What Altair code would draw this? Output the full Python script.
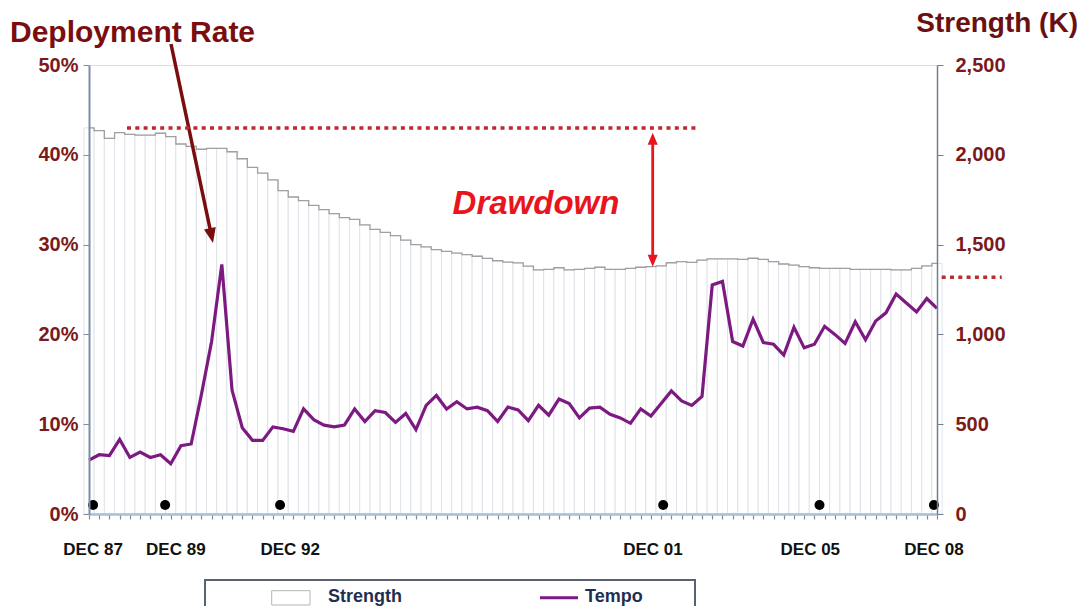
import altair as alt
import pandas as pd

# ---------------- data ----------------
tempo_pct = [6.0, 6.6, 6.5, 8.3, 6.3, 6.9, 6.3, 6.6, 5.6, 7.6,
             7.8, 13.3, 19.2, 27.8, 13.8, 9.6, 8.2, 8.2, 9.7, 9.5,
             9.2, 11.7, 10.5, 9.9, 9.7, 9.9, 11.7, 10.3, 11.5, 11.3,
             10.2, 11.2, 9.4, 12.1, 13.2, 11.7, 12.5, 11.7, 11.9, 11.5,
             10.3, 11.9, 11.6, 10.4, 12.1, 11.0, 12.8, 12.3, 10.7, 11.8,
             11.9, 11.1, 10.7, 10.1, 11.7, 10.9, 12.3, 13.7, 12.6, 12.1,
             13.1, 25.5, 25.9, 19.2, 18.7, 21.7, 19.1, 18.9, 17.7, 20.8,
             18.5, 18.9, 20.9, 20.0, 19.0, 21.4, 19.4, 21.5, 22.4, 24.5,
             23.5, 22.5, 24.0, 22.9]

strength_k = [2150, 2135, 2092, 2123, 2114, 2110, 2110, 2120, 2101, 2060,
              2047, 2031, 2036, 2036, 2017, 1978, 1930, 1898, 1860, 1800,
              1765, 1745, 1718, 1695, 1672, 1650, 1640, 1610, 1585, 1568,
              1550, 1525, 1500, 1487, 1472, 1462, 1453, 1444, 1435, 1423,
              1410, 1402, 1398, 1380, 1359, 1362, 1371, 1359, 1362, 1368,
              1374, 1362, 1362, 1368, 1374, 1377, 1381, 1399, 1405, 1401,
              1414, 1420, 1420, 1420, 1418, 1424, 1418, 1405, 1392, 1386,
              1377, 1371, 1368, 1368, 1368, 1362, 1362, 1362, 1362, 1359,
              1359, 1368, 1381, 1396]

tick_labels = ["DEC 87", "DEC 89", "DEC 92", "DEC 01", "DEC 05", "DEC 08"]
tick_quarters = [0.4, 8.5, 19.7, 55.2, 70.6, 82.7]
marker_quarters = [0.4, 7.45, 18.7, 56.2, 71.5, 82.7]

pct_ticks = [0, 0.1, 0.2, 0.3, 0.4, 0.5]
k_ticks = [0, 500, 1000, 1500, 2000, 2500]

n = len(tempo_pct)
df = pd.DataFrame({
    "q": list(range(n)),
    "tempo": [v / 100 for v in tempo_pct],
    "strength": strength_k,
})

# ---------------- styling ----------------
FONT = "Liberation Sans"
W, H = 848, 449
MAROON = "#7a1a1a"
PURPLE = "#7d1a82"

xs = alt.Scale(domain=[0, n - 1], nice=False, zero=False)
ys_k = alt.Scale(domain=[0, 2500], nice=False, zero=True)
ys_p = alt.Scale(domain=[0, 0.5], nice=False, zero=True)

x_axis = alt.Axis(
    values=list(range(n)), labels=False, title=None, grid=False,
    domainColor="#a9bfd2", domainWidth=2.5, tickColor="#7a8ca3",
    tickSize=5, tickWidth=1.2, zindex=1)

k_axis = alt.Axis(
    orient="right", values=k_ticks, format=",.0f", title=None, grid=False,
    labelFont=FONT, labelFontSize=20, labelFontWeight="bold",
    labelColor=MAROON, labelPadding=12, tickSize=6, tickColor="#6f7f94",
    domainColor="#6f7f94", domainWidth=1.5, zindex=1)

p_axis = alt.Axis(
    orient="left", values=pct_ticks, format=".0%", title=None, grid=False,
    labelFont=FONT, labelFontSize=20, labelFontWeight="bold",
    labelColor=MAROON, labelPadding=5, tickSize=6, tickColor="#7c8ea5",
    domainColor="#7c8ea5", domainWidth=2, zindex=1)

bars = alt.Chart(df).transform_calculate(
    lo="datum.q - 0.5", hi="datum.q + 0.5", zero="0"
).mark_bar(fill="#ffffff", stroke="#dfe3e8", strokeWidth=1).encode(
    x=alt.X("lo:Q", scale=xs, axis=x_axis),
    x2="hi:Q",
    y=alt.Y("strength:Q", scale=ys_k, axis=k_axis),
    y2="zero:Q",
)

step = alt.Chart(df).mark_line(interpolate="step", color="#a0a0a0", strokeWidth=1.3).encode(
    x=alt.X("q:Q", scale=xs, axis=x_axis),
    y=alt.Y("strength:Q", scale=ys_k, axis=k_axis),
)

strength_group = alt.layer(bars, step)

tempo_line = alt.Chart(df).mark_line(color=PURPLE, strokeWidth=3.2).encode(
    x=alt.X("q:Q", scale=xs, axis=x_axis),
    y=alt.Y("tempo:Q", scale=ys_p, axis=p_axis),
)

dots = alt.Chart(pd.DataFrame({"q": marker_quarters})).mark_circle(
    size=100, color="#000000", opacity=1).encode(
    x=alt.X("q:Q", scale=xs, axis=x_axis),
    y=alt.value(440),
)

tick_text = alt.Chart(pd.DataFrame({"q": tick_quarters, "t": tick_labels})).mark_text(
    font=FONT, fontSize=17, fontWeight="bold", color="#111111", baseline="middle").encode(
    x=alt.X("q:Q", scale=xs, axis=x_axis),
    y=alt.value(485),
    text="t:N",
)

tempo_group = alt.layer(tempo_line, dots, tick_text)


def txt(s, x, y, **kw):
    return alt.Chart(pd.DataFrame({"t": [s]})).mark_text(font=FONT, baseline="middle", **kw).encode(
        x=alt.value(x), y=alt.value(y), text="t:N")


def seg(x, y, x2, y2, **kw):
    return alt.Chart(pd.DataFrame({"a": [0]})).mark_rule(**kw).encode(
        x=alt.value(x), y=alt.value(y), x2=alt.value(x2), y2=alt.value(y2))


def head(x, y, angle, size, color, shape="M0,0L-0.4,-1L0.4,-1Z"):
    return alt.Chart(pd.DataFrame({"a": [0]})).mark_point(
        shape=shape, filled=True, size=size, angle=angle, color=color,
        opacity=1, strokeWidth=0).encode(x=alt.value(x), y=alt.value(y))


def box(x, x2, y, y2, **kw):
    return alt.Chart(pd.DataFrame({"a": [0]})).mark_rect(**kw).encode(
        x=alt.value(x), x2=alt.value(x2), y=alt.value(y), y2=alt.value(y2))


DARKRED = "#7a0d0d"
RED = "#e8161c"

annotations = [
    txt("Deployment Rate", -79, -32, fontSize=30, fontWeight="bold", color=DARKRED, align="left"),
    seg(82, -21, 121.5, 166, color=DARKRED, strokeWidth=3.5),
    head(124, 178, 347.9, 900, DARKRED),
    txt("Strength (K)", 989, -41.5, fontSize=28, fontWeight="bold", color="#6b0f0f", align="right"),
    seg(38, 63, 608, 63, color="#c0282c", strokeWidth=3.5, strokeDash=[4, 4.3]),
    seg(563.7, 76, 563.7, 193, color=RED, strokeWidth=2.8),
    head(563.7, 67.7, 180, 576, RED, "M0,0L-0.42,-1L0.42,-1Z"),
    head(563.7, 201.7, 0, 576, RED, "M0,0L-0.42,-1L0.42,-1Z"),
    txt("Drawdown", 447, 139, fontSize=33, fontWeight="bold", fontStyle="italic", color=RED, align="center"),
    seg(852.7, 212.3, 912.7, 212.3, color="#b83030", strokeWidth=3.5, strokeDash=[4, 4.3]),
    # legend
    box(116, 606, 515, 560, fill="#ffffff", stroke="#59626f", strokeWidth=2),
    box(182.7, 221, 525.7, 540, fill="#ffffff", stroke="#b5b5b5", strokeWidth=1),
    txt("Strength", 239, 532, fontSize=18, fontWeight="bold", color="#1f2f50", align="left"),
    seg(451, 532.7, 489, 532.7, color=PURPLE, strokeWidth=3),
    txt("Tempo", 496, 532, fontSize=18, fontWeight="bold", color="#1f2f50", align="left"),
]

chart = alt.layer(strength_group, tempo_group, *annotations).resolve_scale(
    y="independent"
).properties(
    width=W, height=H,
    padding={"left": 81, "top": 57, "right": 142, "bottom": 92},
    autosize=alt.AutoSizeParams(type="none"),
).configure_view(stroke="#8e96a1", strokeWidth=1).configure(background="#ffffff")

chart.save("out.html", embed_options={"renderer": "svg", "actions": False})
